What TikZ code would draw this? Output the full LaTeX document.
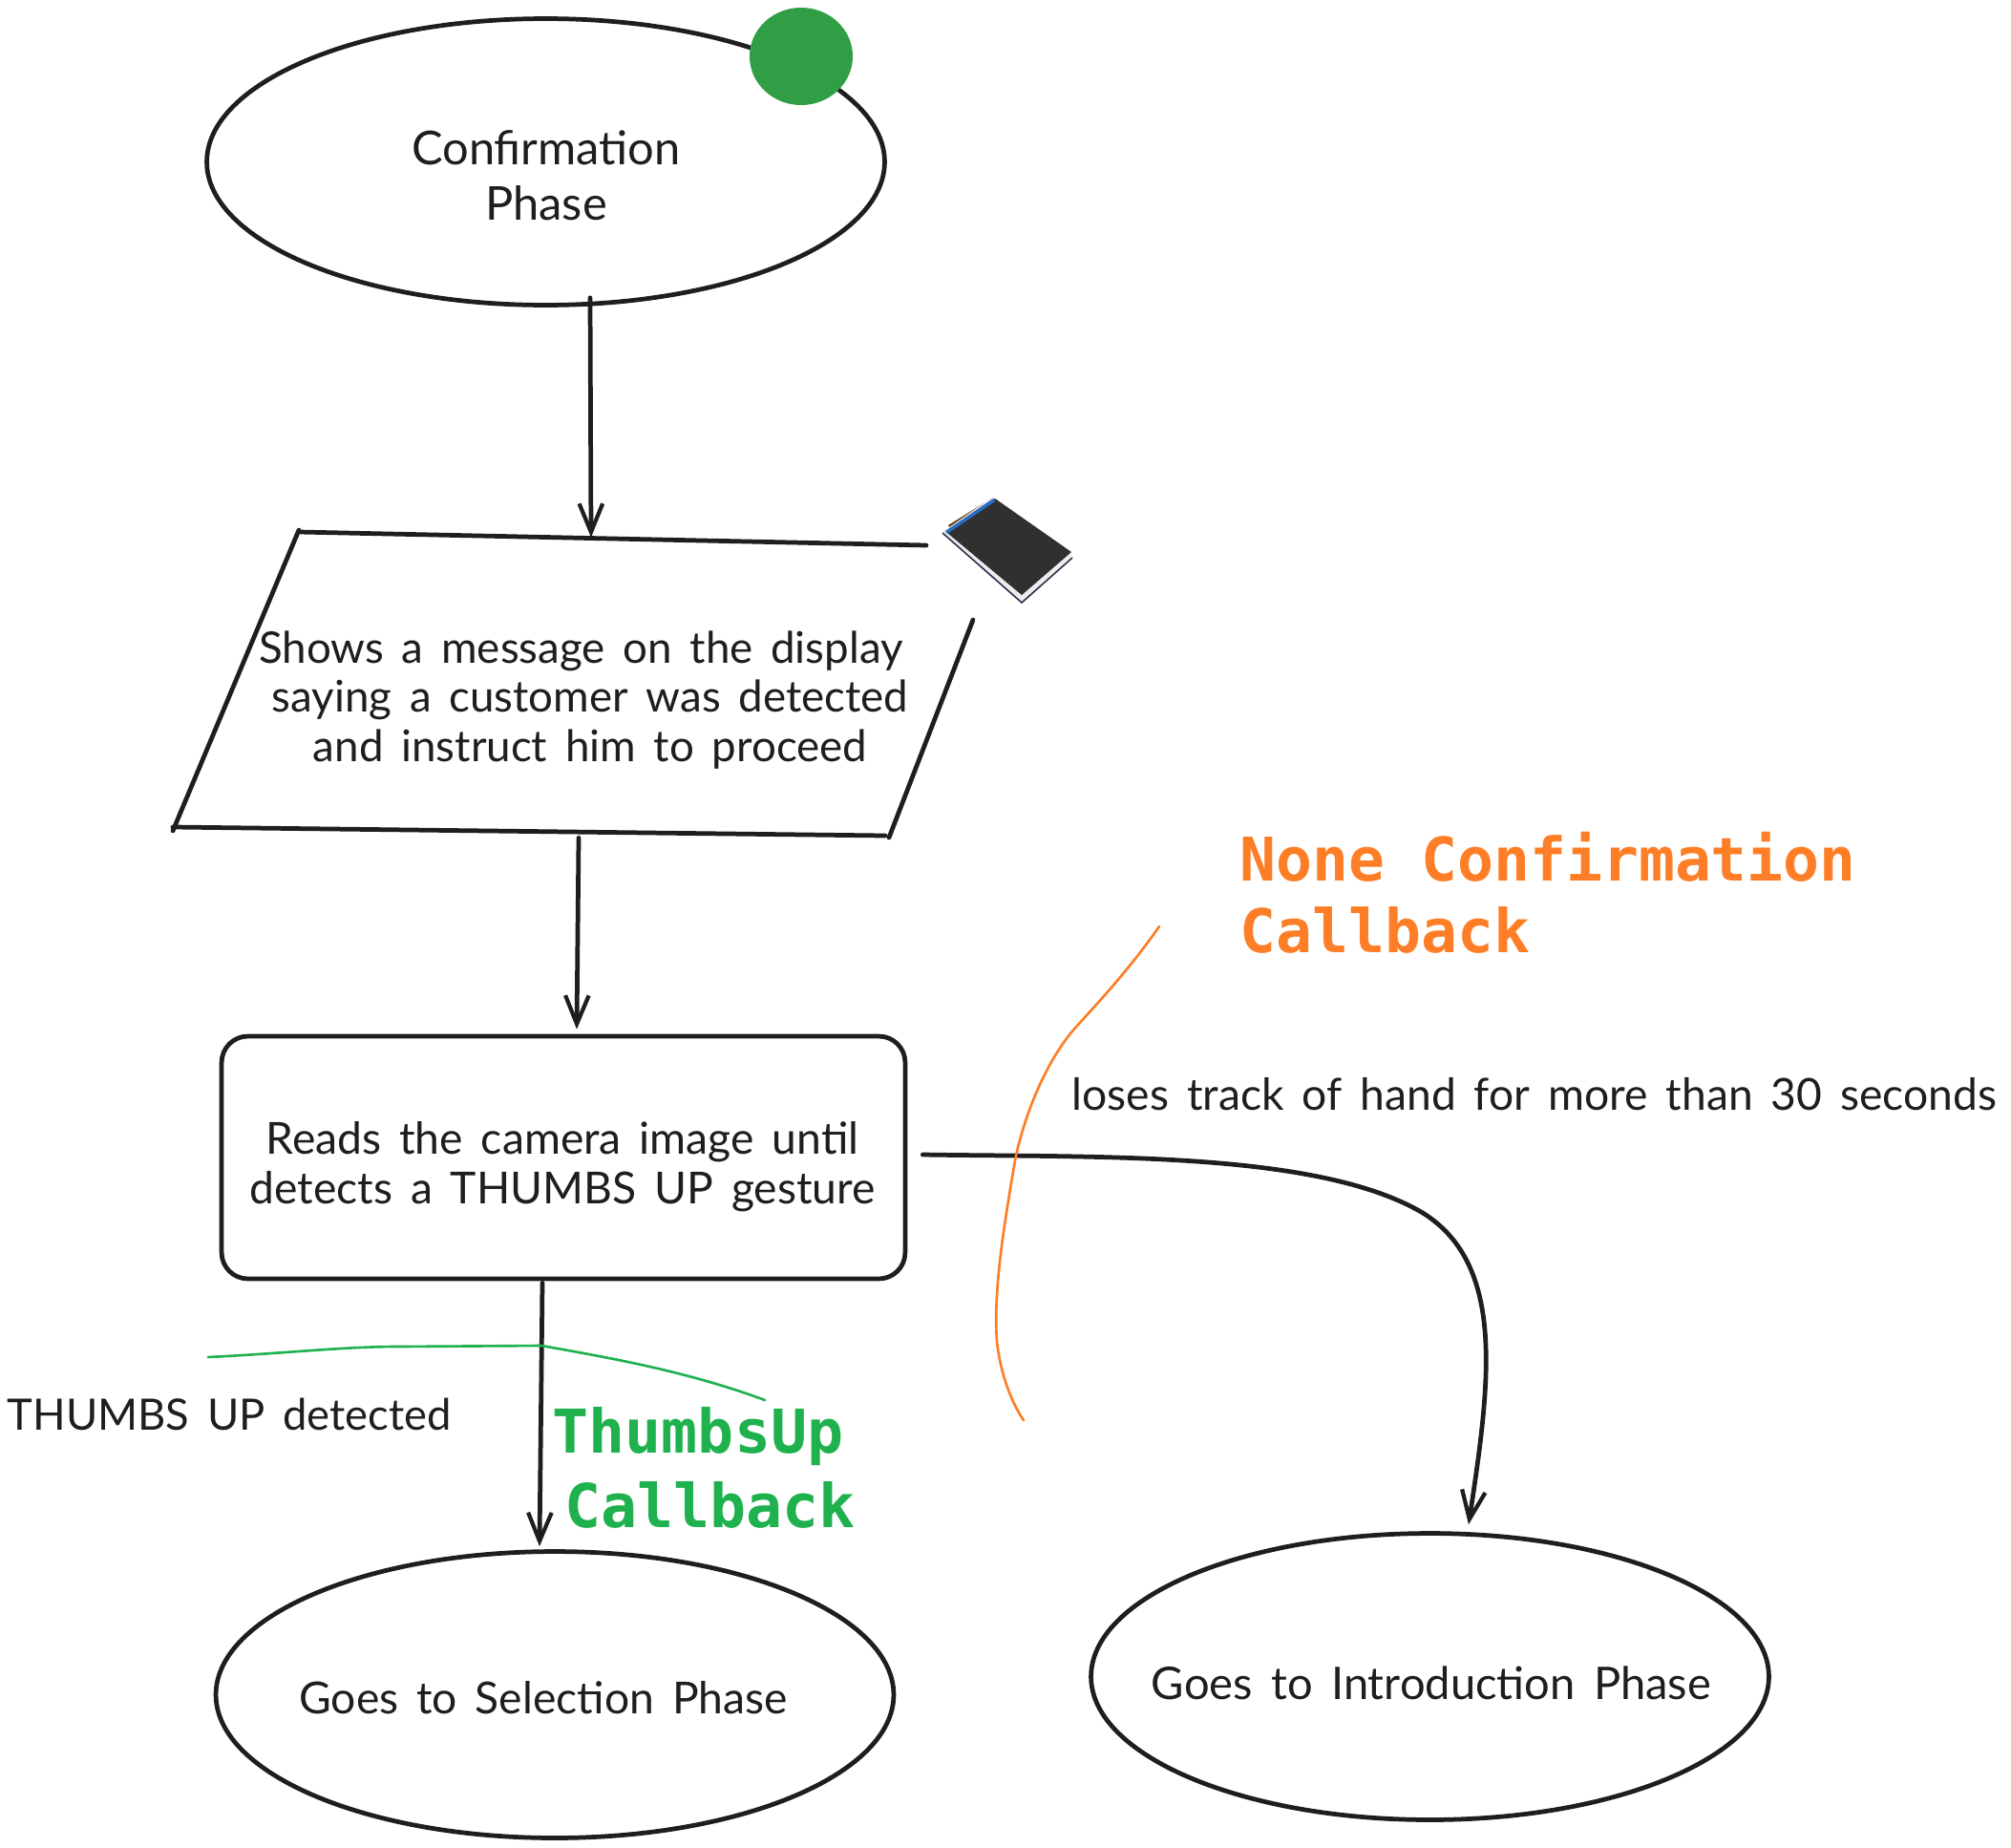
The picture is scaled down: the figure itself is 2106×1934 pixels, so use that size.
\documentclass[tikz,border=0pt]{standalone}
\usepackage{fontspec}
\usetikzlibrary{shapes.geometric,arrows.meta,calc}
\setmainfont{Lato}[WordSpace=1.6]
\newfontfamily\codefont{DejaVu Sans Mono}
\definecolor{ink}{HTML}{1E1E1E}
\definecolor{dotgreen}{HTML}{2F9E44}
\definecolor{cbgreen}{HTML}{1FB14D}
\definecolor{cborange}{HTML}{FD7E26}
\definecolor{panelblue}{HTML}{2B6CC4}
\definecolor{paneledge}{HTML}{27304A}
\tikzset{
  inkline/.style={draw=ink,line width=2.7pt,line cap=round,line join=round},
  flow/.style={inkline,-{Straight Barb[length=17pt,width=14pt,line width=2.4pt]}},
  phase/.style={ellipse,inkline,fill=none,minimum width=14.2cm,minimum height=6.0cm,inner sep=0pt},
  taskbox/.style={rectangle,rounded corners=0.55cm,inkline,minimum width=14.32cm,minimum height=5.08cm,inner sep=0pt},
  hand/.style={text=ink,font=\fontsize{26.3}{29.5}\selectfont,align=center,inner sep=0pt},
  code/.style={font=\codefont\bfseries\fontsize{36}{44}\selectfont,inner sep=0pt,align=left},
  hint/.style={line width=1.5pt,line cap=round,line join=round}
}
\begin{document}
\begin{tikzpicture}[x=0.02cm,y=-0.02cm]
\useasboundingbox (0,0) rectangle (2106,1934);
\fill[white] (0,0) rectangle (2106,1934);

% shapes
\node[phase] (confirm) at (571.5,169.5) {};
\node[phase] (selection) at (581,1774.5) {};
\node[phase] (intro) at (1497.5,1755.5) {};
\node[taskbox] (reads) at (590,1212) {};

% parallelogram, opened where the display picture sits
\coordinate (paraA) at (313,557);
\coordinate (paraB) at (970,571);
\coordinate (paraC) at (1019,649);
\coordinate (paraD) at (931,877);
\coordinate (paraE) at (927,875);
\coordinate (paraF) at (181,866);
\coordinate (paraG) at (181,870);
\coordinate (paraH) at (313,555);
\draw[inkline] (paraA) -- (paraB);
\draw[inkline] (paraC) -- (paraD);
\draw[inkline] (paraE) -- (paraF);
\draw[inkline] (paraG) -- (paraH);
\node[minimum width=16.76cm,minimum height=6.2cm,inner sep=0pt] (show) at (600,715) {};

% green status dot
\fill[dotgreen] (839,59) ellipse [x radius=54,y radius=51];

% display picture
\fill[black!60!orange] (993,550) -- (1030,527) -- (1034,532) -- (997,556) -- cycle;
\fill[white!93!black] (987,557) -- (1040,520) -- (1123,582) -- (1070,630) -- cycle;
\draw[paneledge,line width=0.9pt] (987,558) -- (1070,631) -- (1123,584);
\fill[ink!92!white] (992,558) -- (1042,522) -- (1122,578) -- (1070,623) -- cycle;
\fill[panelblue] (990,556) -- (1040,522) -- (1042,525) -- (992,559) -- cycle;

% labels
\node[hand,font=\fontsize{27.8}{33}\selectfont] (confirmT) at (572,183.5) {Confirmation\\Phase};
\node[hand,font=\fontsize{26}{29.5}\selectfont] (showT) at (618,733) {Shows a message on the display\hspace*{0.38cm}\\saying a customer was detected\\and instruct him to proceed};
\node[hand] (readsT) at (589,1222) {Reads the camera image until\\detects a THUMBS UP gesture};
\node[hand] (selT) at (569,1778) {Goes to Selection Phase};
\node[hand,font=\fontsize{26.8}{30}\selectfont] (introT) at (1499,1762) {Goes to Introduction Phase};
\node[hand,font=\fontsize{25.8}{30}\selectfont] (thumbsT) at (240,1481) {THUMBS UP detected};
\node[hand] (lostT) at (1607,1146) {loses track of hand for more than 30 seconds};

\node[code,text=cbgreen,align=center] (thumbsCb) at (731,1537) {ThumbsUp\\\hspace*{0.4em}Callback};
\node[code,text=cborange,anchor=north west,font=\codefont\bfseries\fontsize{35.9}{42.5}\selectfont] (noneCb) at (1298,871) {None Confirmation\\Callback};

% connectors
\draw[flow] ([shift={(46.5,-10)}]confirm.south) -- ([shift={(19,3)}]show.north);
\draw[flow] ([shift={(6,7)}]show.south) -- ([shift={(14,-5)}]reads.north);
\draw[flow] ([shift={(-22,2)}]reads.south) -- ([shift={(-16,-3)}]selection.north);
\draw[flow] ([shift={(16,-3)}]reads.east) .. controls (1150,1212) and (1380,1205) .. (1490,1270) .. controls (1578,1325) and (1560,1450) .. ([shift={(40.5,-7)}]intro.north);

% freehand callback strokes
\coordinate (gs) at (218,1421);
\coordinate (ge) at (801,1466);
\draw[hint,draw=cbgreen] (gs) .. controls (300,1417) and (360,1410) .. (416,1410) -- (567,1409) .. controls (640,1422) and (720,1436) .. (ge);
\coordinate (os) at (1214,970);
\coordinate (oe) at (1072,1487);
\draw[hint,draw=cborange] (os) .. controls (1185,1012) and (1150,1050) .. (1128,1074) .. controls (1095,1110) and (1072,1170) .. (1063,1215) .. controls (1052,1280) and (1040,1350) .. (1044,1405) .. controls (1048,1440) and (1060,1470) .. (oe);
\end{tikzpicture}
\end{document}
